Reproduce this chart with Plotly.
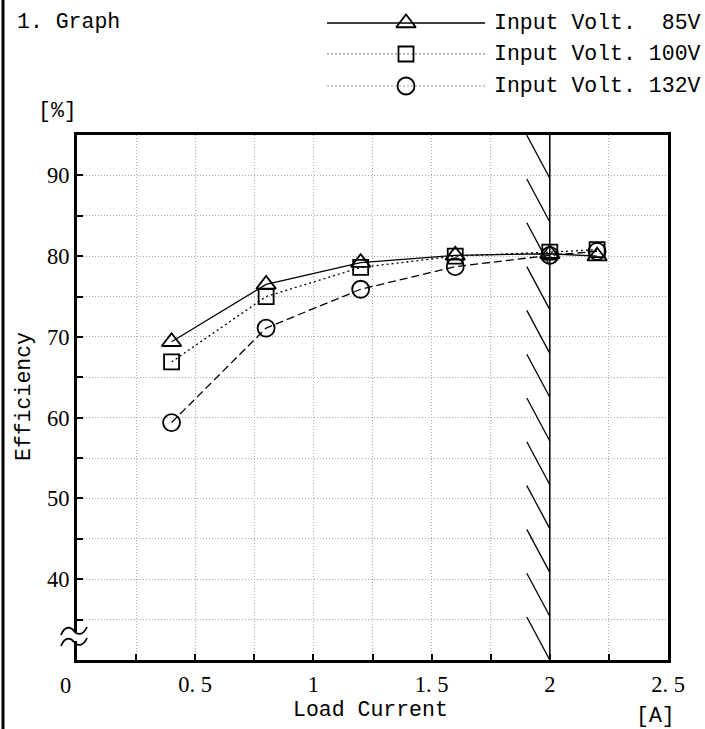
import plotly.graph_objects as go

# ---------------- data ----------------
load_current = [0.4, 0.8, 1.2, 1.6, 2.0, 2.2]
eff_85v = [69.4, 76.5, 79.2, 80.1, 80.3, 80.0]
eff_100v = [66.9, 75.0, 78.6, 80.0, 80.5, 80.8]
eff_132v = [59.4, 71.1, 75.9, 78.7, 80.1, 80.6]

series_names = ["Input Volt.  85V", "Input Volt. 100V", "Input Volt. 132V"]

x_tickvals = [0, 0.25, 0.5, 0.75, 1.0, 1.25, 1.5, 1.75, 2.0, 2.25, 2.5]
x_ticktext = ["", "", "0. 5", "", "1", "", "1. 5", "", "2", "", "2. 5"]
y_tickvals = [35, 40, 45, 50, 55, 60, 65, 70, 75, 80, 85, 90]
y_ticktext = ["", "40", "", "50", "", "60", "", "70", "", "80", "", "90"]
rated_current = 2.0

# ---------------- layout constants ----------------
W, H = 705, 729
L, R, T, B = 77, 668, 135, 660
XR = [0, 2.5]
YR = [30, 95]
MONO = "Liberation Mono"
SERIF = "Liberation Serif"
MONO_SIZE = 21.5
MONO_WEIGHT = "normal"
TICK_SIZE = 22.5

fig = go.Figure()

styles = [
    dict(symbol="triangle-up-open", dash="solid", size=17),
    dict(symbol="square-open", dash="2px,3px", size=15),
    dict(symbol="circle-open", dash="8px,4px", size=17),
]
for name, ys, st in zip(series_names, [eff_85v, eff_100v, eff_132v], styles):
    fig.add_trace(go.Scatter(
        x=load_current, y=ys, mode="lines+markers", name=name,
        line=dict(color="black", width=1.3, dash=st["dash"]),
        marker=dict(symbol=st["symbol"], size=st["size"], color="black",
                    line=dict(width=1.8, color="black")),
        xaxis="x", yaxis="y", showlegend=False,
    ))

# ---------------- custom legend (pixel overlay axes) ----------------
LEG_X0, LEG_X1, LEG_MX, LEG_TX = 327, 485, 406, 492
LEG_ROWS = [23, 54, 86]
leg_line_styles = [
    dict(color="black", width=1.5, dash="solid"),
    dict(color="#777", width=1, dash="2px,2px"),
    dict(color="#999", width=1, dash="2px,2px"),
]
shapes = []
annotations = []
for name, row, st, ls in zip(series_names, LEG_ROWS, styles, leg_line_styles):
    shapes.append(dict(type="line", xref="x2", yref="y2", x0=LEG_X0, x1=LEG_X1,
                       y0=row, y1=row, line=ls))
    fig.add_trace(go.Scatter(
        x=[LEG_MX], y=[row], mode="markers", xaxis="x2", yaxis="y2",
        marker=dict(symbol=st["symbol"], size=st["size"], color="black",
                    line=dict(width=1.8, color="black")),
        showlegend=False, hoverinfo="skip",
    ))
    annotations.append(dict(x=LEG_TX, y=row, xref="x2", yref="y2", text=name,
                            showarrow=False, xanchor="left", yanchor="middle",
                            font=dict(family=MONO, size=MONO_SIZE, color="black",
                                      weight=MONO_WEIGHT)))

# ---------------- hatched rated-current boundary ----------------
shapes.append(dict(type="line", xref="x", yref="y", x0=rated_current, x1=rated_current,
                   y0=YR[0], y1=YR[1], line=dict(color="black", width=1.5)))
hatch_dx_px, hatch_dy_px, hatch_step_px = 23, 43, 43.8
px_per_x = (R - L) / (XR[1] - XR[0])
px_per_y = (B - T) / (YR[1] - YR[0])
yend = YR[0]
while yend < YR[1]:
    y_top = min(yend + hatch_dy_px / px_per_y, YR[1])
    frac = (y_top - yend) / (hatch_dy_px / px_per_y)
    shapes.append(dict(type="line", xref="x", yref="y",
                       x0=rated_current - frac * hatch_dx_px / px_per_x, y0=y_top,
                       x1=rated_current, y1=yend,
                       line=dict(color="black", width=1.3)))
    yend += hatch_step_px / px_per_y

# ---------------- axis break symbol ----------------
shapes.append(dict(type="rect", xref="x2", yref="y2", x0=72, x1=82, y0=632, y1=641,
                   fillcolor="white", line=dict(width=0), layer="above"))
for dy in (0, 11):
    shapes.append(dict(type="path", xref="x2", yref="y2", layer="above",
                       path=f"M 61,{635+dy} C 65,{625+dy} 71,{627+dy} 74,{631+dy} "
                            f"S 83,{636+dy} 87,{627+dy}",
                       line=dict(color="black", width=1.8)))

# document border line at the far left
shapes.append(dict(type="line", xref="x2", yref="y2", x0=3, x1=3, y0=0, y1=H,
                   line=dict(color="black", width=3)))

# ---------------- texts ----------------
def txt(x, y, s, font_family=MONO, size=MONO_SIZE, xanchor="center", angle=0,
        weight=MONO_WEIGHT):
    annotations.append(dict(x=x, y=y, xref="x2", yref="y2", text=s, showarrow=False,
                            xanchor=xanchor, yanchor="middle", textangle=angle,
                            font=dict(family=font_family, size=size, color="black",
                                      weight=weight)))

txt(15, 22, "1. Graph", xanchor="left")
txt(57, 111, "[%]")
txt(655, 716, "[A]")
txt(370, 710, "Load Current")
txt(24, 397, "Efficiency", angle=-90)
txt(65, 685, "0", font_family=SERIF, size=TICK_SIZE, weight="normal")

fig.add_trace(go.Scatter(x=[0], y=[0], xaxis="x2", yaxis="y2", mode="markers",
                         marker=dict(opacity=0), showlegend=False, hoverinfo="skip"))

GRID = dict(showgrid=True, gridcolor="#a8a8a8", griddash="1px,2px", gridwidth=1)
fig.update_layout(
    template="none",
    width=W, height=H, autosize=False,
    margin=dict(l=0, r=0, t=0, b=0, pad=0, autoexpand=False),
    paper_bgcolor="white", plot_bgcolor="rgba(0,0,0,0)",
    showlegend=False,
    xaxis=dict(domain=[L / W, R / W], range=XR, tickvals=x_tickvals, ticktext=x_ticktext,
               ticks="inside", ticklen=6, tickwidth=2, tickcolor="black",
               showline=True, linecolor="black", linewidth=3, mirror=True,
               zeroline=False, ticklabelstandoff=2, automargin=False,
               tickfont=dict(family=SERIF, size=TICK_SIZE, color="black"),
               anchor="y", **GRID),
    yaxis=dict(domain=[1 - B / H, 1 - T / H], range=YR, tickvals=y_tickvals,
               ticktext=y_ticktext,
               ticks="inside", ticklen=6, tickwidth=2, tickcolor="black",
               showline=True, linecolor="black", linewidth=3, mirror=True,
               zeroline=False, ticklabelstandoff=0, automargin=False,
               tickfont=dict(family=SERIF, size=TICK_SIZE, color="black"),
               anchor="x", **GRID),
    xaxis2=dict(domain=[0, 1], range=[0, W], visible=False, anchor="y2",
                fixedrange=True, automargin=False),
    yaxis2=dict(domain=[0, 1], range=[H, 0], visible=False, anchor="x2",
                fixedrange=True, automargin=False),
    shapes=shapes,
    annotations=annotations,
)

fig.write_html(
    "out.html",
    config={"responsive": False},
    post_script="document.documentElement.style.overflow='hidden';"
                "document.body.style.overflow='hidden';document.body.style.margin='0';",
)
